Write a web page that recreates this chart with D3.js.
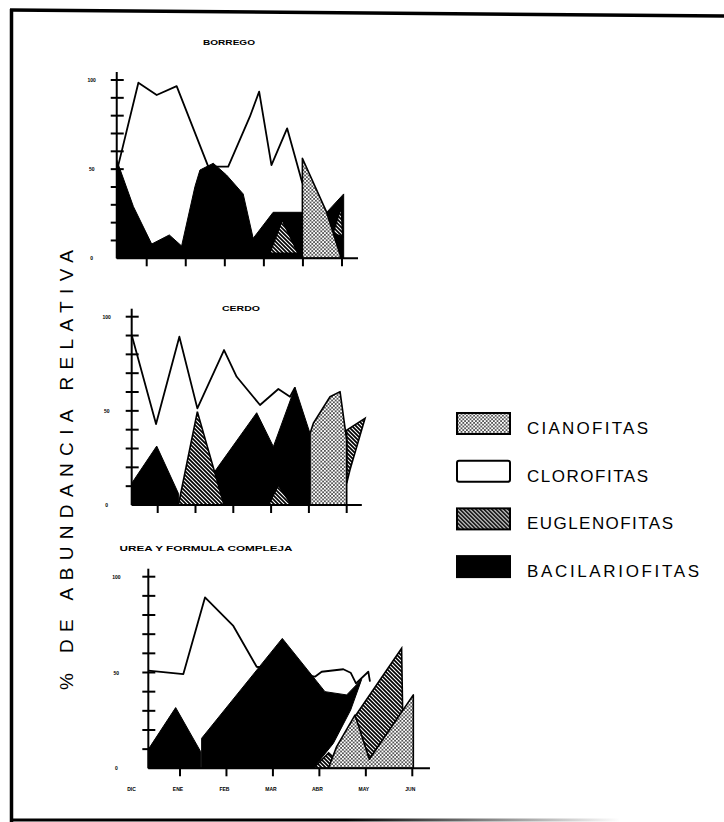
<!DOCTYPE html>
<html>
<head>
<meta charset="utf-8">
<script src="https://cdn.jsdelivr.net/npm/d3@7"></script>
<style>
  body { margin: 0; background: #fff; }
  text { font-family: "Liberation Sans", Arial, sans-serif; }
</style>
</head>
<body>
<svg id="chart" width="724" height="822"></svg>
<script>
// values: x in sampling units (ticks 1..6), y in % abundance
// each group is a list of outlines [x, %]

const borregoClorofitas = [[0.233,48.6],[0.787,98.5],[1.256,91.6],[1.767,96.6],[2.576,51.4],[3.087,51.4],
  [3.641,79.4],[3.879,93.5],[4.194,52.3],[4.595,72.9],[4.986,42.1]];
const borregoBacilariofitas = [
  [[0.233,0],[0.233,55.1],[0.66,29],[1.128,8],[1.579,13.1],[1.894,6.9],[2.235,40.2],[2.363,49.5],
   [2.704,53.3],[3.044,46.7],[3.47,36.1],[3.726,11.2],[4.237,25.8],[5.003,25.8],[5.003,0]],
  [[5.6,25.6],[6.043,36.1],[6.043,0],[5.98,0]]
];
const borregoEuglenofitas = [
  [[4.15,2.8],[4.467,21.5],[4.875,2.8]],
  [[5.77,14],[5.98,29],[6.02,12]]
];
const borregoCianofitas = [
  [[4.986,0],[4.986,56.1],[5.6,26.2],[5.98,0]]
];

const cerdoClorofitas = [[0.312,90.3],[0.956,43],[1.573,89.4],[2.049,51.3],[2.755,82.3],[3.09,68.1],
  [3.707,53.1],[4.192,61.6],[4.501,57.5],[4.633,62.5]];
const cerdoBacilariofitas = [
  [[0.312,0],[0.312,11.5],[0.974,31.3],[1.547,6.2],[1.547,0]],
  [[2.429,0],[2.473,16.8],[3.619,49],[4.06,31],[4.633,62.5],[5.03,38],[5.03,0]]
];
const cerdoEuglenofitas = [
  [[1.547,0],[2.049,49.6],[2.755,0]],
  [[3.928,0],[4.19,10.6],[4.545,0]],
  [[6.0,39.8],[6.485,46],[6.085,18.6],[6.0,11.5]]
];
const cerdoCianofitas = [
  [[5.03,0],[5.03,38],[5.118,43.4],[5.559,57.5],[5.824,60.2],[6.0,34.5],[6.0,0]]
];

const ureaClorofitas = [[0.318,51],[1.072,49.2],[1.538,89.2],[2.148,74.3],[2.65,53],[3.905,47.8],
  [4.049,50.4],[4.515,51.7],[4.673,49.9],[4.788,44.3],[5.053,50.4],[5.089,45.2]];
const ureaBacilariofitas = [
  [[0.318,0],[0.318,9.9],[0.907,31.7],[1.445,8.7],[1.445,0]],
  [[1.466,0],[1.466,15.7],[3.202,67.8],[4.121,40],[4.587,38.3],[4.91,46.4],[4.673,30.4],[4.3,13],[3.87,0]]
];
const ureaEuglenofitas = [
  [[3.87,0],[4.2,8],[4.55,0]],
  [[4.766,27],[5.77,62.6],[5.792,29.6],[5.075,4.7]]
];
const ureaCianofitas = [
  [[4.192,0],[4.372,11.3],[4.766,27.8],[5.075,4.7],[6.022,38.3],[6.022,0]]
];

const yTickLabels = ["0", "50", "100"];
const yTickValues = [0, 50, 100];
const yMinorTicks = [10, 20, 30, 40, 50, 60, 70, 80, 90, 100];
const xTicks = [1, 2, 3, 4, 5, 6];
const xLabelValues = [0, 1, 2, 3, 4, 5, 6];
const xLabels = ["DIC", "ENE", "FEB", "MAR", "ABR", "MAY", "JUN"];
const legendNames = ["CIANOFITAS", "CLOROFITAS", "EUGLENOFITAS", "BACILARIOFITAS"];
const yAxisTitle = "% DE ABUNDANCIA RELATIVA";

// layout of the three panels (pixel positions)
const panels = [
  { title: "BORREGO", tx: 229, ty: 45, tlen: 52, x1: 146.7, x6: 342, y0: 258.3, y100: 80, start: 0.233, end: 6.41,
    cloro: borregoClorofitas, bacil: borregoBacilariofitas, eugl: borregoEuglenofitas, ciano: borregoCianofitas, labX: -25 },
  { title: "CERDO", tx: 241, ty: 311, tlen: 38, x1: 157.7, x6: 346.7, y0: 505, y100: 316.7, start: 0.312, end: 6.4,
    cloro: cerdoClorofitas, bacil: cerdoBacilariofitas, eugl: cerdoEuglenofitas, ciano: cerdoCianofitas, labX: -25 },
  { title: "UREA Y FORMULA COMPLEJA", tx: 206, ty: 551, tlen: 173, x1: 180, x6: 412.3, y0: 768.3, y100: 576.7, start: 0.318, end: 6.38,
    cloro: ureaClorofitas, bacil: ureaBacilariofitas, eugl: ureaEuglenofitas, ciano: ureaCianofitas, labX: -32, months: true }
];

const svg = d3.select("#chart");
const defs = svg.append("defs");

// stippled fill for cianofitas
const dots = defs.append("pattern").attr("id", "dots")
  .attr("patternUnits", "userSpaceOnUse").attr("width", 3.6).attr("height", 3.6);
dots.append("rect").attr("width", 3.6).attr("height", 3.6).attr("fill", "#fff");
dots.append("circle").attr("cx", 0.9).attr("cy", 0.9).attr("r", 0.8).attr("fill", "#000");
dots.append("circle").attr("cx", 2.7).attr("cy", 2.7).attr("r", 0.8).attr("fill", "#000");

// black with white diagonal lines for euglenofitas
const hatch = defs.append("pattern").attr("id", "hatch")
  .attr("patternUnits", "userSpaceOnUse").attr("width", 4).attr("height", 4);
hatch.append("rect").attr("width", 4).attr("height", 4).attr("fill", "#000");
hatch.append("path").attr("d", "M0,0 L4,4 M-1,3 L1,5 M3,-1 L5,1")
  .attr("stroke", "#fff").attr("stroke-width", 1.1);

const fade = defs.append("linearGradient").attr("id", "fade")
  .attr("gradientUnits", "userSpaceOnUse").attr("x1", 10).attr("x2", 620).attr("y1", 0).attr("y2", 0);
fade.append("stop").attr("offset", "0.55").attr("stop-color", "#000");
fade.append("stop").attr("offset", "1").attr("stop-color", "#fff");

// frame
svg.append("line").attr("x1", 10).attr("y1", 10).attr("x2", 724).attr("y2", 16)
  .attr("stroke", "#000").attr("stroke-width", 3.5);
svg.append("line").attr("x1", 11.5).attr("y1", 9).attr("x2", 11.5).attr("y2", 822)
  .attr("stroke", "#000").attr("stroke-width", 3.5);
svg.append("line").attr("x1", 10).attr("y1", 820).attr("x2", 620).attr("y2", 820)
  .attr("stroke", "url(#fade)").attr("stroke-width", 3);

panels.forEach(p => {
  const x = d3.scaleLinear().domain([1, 6]).range([p.x1, p.x6]);
  const y = d3.scaleLinear().domain([0, 100]).range([p.y0, p.y100]);
  const g = svg.append("g");
  const outline = pts => d3.line().x(d => x(d[0])).y(d => y(d[1]))(pts) + "Z";

  g.append("text").attr("x", p.tx).attr("y", p.ty).attr("text-anchor", "middle")
    .attr("font-size", 7).attr("font-weight", "bold")
    .attr("textLength", p.tlen).attr("lengthAdjust", "spacingAndGlyphs")
    .text(p.title);

  // clorofitas: white area with black top line
  g.append("path").datum(p.cloro)
    .attr("d", d3.area().x(d => x(d[0])).y0(y(0)).y1(d => y(d[1])))
    .attr("fill", "#fff");
  g.append("path").datum(p.cloro)
    .attr("d", d3.line().x(d => x(d[0])).y(d => y(d[1])))
    .attr("fill", "none").attr("stroke", "#000").attr("stroke-width", 1.8)
    .attr("stroke-linejoin", "round");

  g.selectAll(".bacil").data(p.bacil).enter().append("path")
    .attr("d", outline).attr("fill", "#000").attr("stroke", "#000").attr("stroke-width", 1);
  g.selectAll(".eugl").data(p.eugl).enter().append("path")
    .attr("d", outline).attr("fill", "url(#hatch)").attr("stroke", "#000").attr("stroke-width", 1.6);
  g.selectAll(".ciano").data(p.ciano).enter().append("path")
    .attr("d", outline).attr("fill", "url(#dots)").attr("stroke", "#000").attr("stroke-width", 1.6)
    .attr("stroke-linejoin", "round");

  // axes drawn by hand, like the original plotter
  const ax = x(p.start);
  g.append("line").attr("x1", ax).attr("x2", ax).attr("y1", y(0)).attr("y2", y(100) - 8)
    .attr("stroke", "#000").attr("stroke-width", 2);
  g.append("line").attr("x1", ax).attr("x2", x(p.end)).attr("y1", y(0)).attr("y2", y(0))
    .attr("stroke", "#000").attr("stroke-width", 2);
  g.selectAll(".ytick").data(yMinorTicks).enter().append("line")
    .attr("x1", ax - 6).attr("x2", ax + 7).attr("y1", d => y(d)).attr("y2", d => y(d))
    .attr("stroke", "#000").attr("stroke-width", 2);
  g.selectAll(".xtick").data(xTicks).enter().append("line")
    .attr("x1", d => x(d)).attr("x2", d => x(d)).attr("y1", y(0)).attr("y2", y(0) + 8)
    .attr("stroke", "#000").attr("stroke-width", 2);

  g.selectAll(".ylab").data(yTickValues).enter().append("text")
    .attr("x", ax + p.labX).attr("y", d => y(d) + 2).attr("text-anchor", "middle")
    .attr("font-size", 5).attr("font-weight", "bold")
    .text((d, i) => yTickLabels[i]);

  if (p.months) {
    g.selectAll(".xlab").data(xLabelValues).enter().append("text")
      .attr("x", d => x(d) - 2).attr("y", y(0) + 23).attr("text-anchor", "middle")
      .attr("font-size", 5).attr("font-weight", "bold")
      .text((d, i) => xLabels[i]);
  }
});

// y axis title
svg.append("text").attr("transform", "translate(73,470) rotate(-90)")
  .attr("text-anchor", "middle").attr("font-size", 19)
  .attr("textLength", 440).attr("lengthAdjust", "spacing")
  .text(yAxisTitle);

// legend
const legendFills = ["url(#dots)", "#fff", "url(#hatch)", "#000"];
const legendLens = [121, 121, 146, 172];
const legend = svg.append("g").attr("transform", "translate(457,413)");
legendNames.forEach((name, i) => {
  const row = legend.append("g").attr("transform", "translate(0," + (i * 47.7) + ")");
  row.append("rect").attr("x", 0).attr("y", 0).attr("width", 53).attr("height", 21)
    .attr("rx", i === 1 ? 2 : 0)
    .attr("fill", legendFills[i]).attr("stroke", "#000").attr("stroke-width", 2);
  row.append("text").attr("x", 70).attr("y", 21).attr("font-size", 17)
    .attr("textLength", legendLens[i]).attr("lengthAdjust", "spacing")
    .text(name);
});
</script>
</body>
</html>
